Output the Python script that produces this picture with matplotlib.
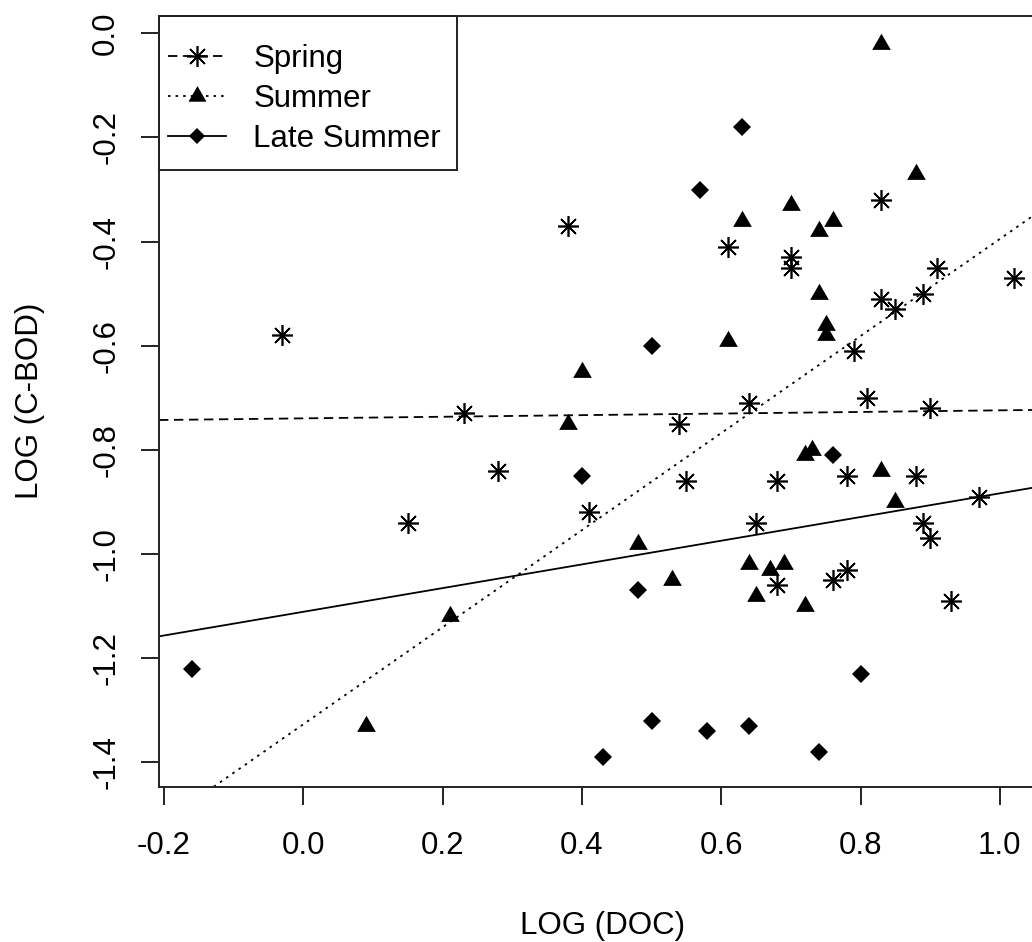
import matplotlib
matplotlib.use('Agg')
import matplotlib.pyplot as plt
from matplotlib.lines import Line2D
from matplotlib.patches import Rectangle
from matplotlib.ticker import FixedLocator, FormatStrFormatter

plt.rcParams['font.family'] = ['Liberation Sans', 'DejaVu Sans']
plt.rcParams['axes.unicode_minus'] = False

# data
spring_x = [-0.03, 0.15, 0.23, 0.28, 0.38, 0.41, 0.54, 0.55, 0.61, 0.64,
            0.65, 0.68, 0.68, 0.70, 0.70, 0.76, 0.78, 0.78, 0.79, 0.81,
            0.83, 0.83, 0.85, 0.88, 0.89, 0.89, 0.90, 0.90, 0.91, 0.93,
            0.97, 1.02]
spring_y = [-0.58, -0.94, -0.73, -0.84, -0.37, -0.92, -0.75, -0.86, -0.41, -0.71,
            -0.94, -0.86, -1.06, -0.43, -0.45, -1.05, -0.85, -1.03, -0.61, -0.70,
            -0.32, -0.51, -0.53, -0.85, -0.50, -0.94, -0.72, -0.97, -0.45, -1.09,
            -0.89, -0.47]

summer_x = [0.09, 0.21, 0.38, 0.40, 0.48, 0.53, 0.61, 0.63, 0.64, 0.65,
            0.67, 0.69, 0.70, 0.72, 0.72, 0.73, 0.74, 0.74, 0.75, 0.75,
            0.76, 0.83, 0.83, 0.85, 0.88]
summer_y = [-1.33, -1.12, -0.75, -0.65, -0.98, -1.05, -0.59, -0.36, -1.02, -1.08,
            -1.03, -1.02, -0.33, -0.81, -1.10, -0.80, -0.38, -0.50, -0.56, -0.58,
            -0.36, -0.02, -0.84, -0.90, -0.27]

late_x = [-0.16, 0.40, 0.43, 0.48, 0.50, 0.50, 0.57, 0.58, 0.63, 0.64, 0.74, 0.76, 0.80]
late_y = [-1.22, -0.85, -1.39, -1.07, -0.60, -1.32, -0.30, -1.34, -0.18, -1.33, -1.38, -0.81, -1.23]

seasons = ['Spring', 'Summer', 'Late Summer']
fit_intercept = [-0.7395, -1.327, -1.111]
fit_slope = [0.0154, 0.932, 0.2275]

x_ticks = [-0.2, 0.0, 0.2, 0.4, 0.6, 0.8, 1.0]
y_ticks = [-1.4, -1.2, -1.0, -0.8, -0.6, -0.4, -0.2, 0.0]

# R-like markers
asterisk = (8, 2, 0)
triangle = [(0, 1.555), (1.3468, -0.7776), (-1.3468, -0.7776)]
styles = [dict(marker=asterisk, ms=15, leg_ms=15, mew=1.2, linestyle=(0, (5.2, 3.1))),
          dict(marker=triangle, ms=15.5, leg_ms=15, mew=0, linestyle=(0, (1.4, 2.8))),
          dict(marker='D', ms=9.6, leg_ms=8.5, mew=0, linestyle='-')]

fs = 22.5

fig = plt.figure(figsize=(10.32, 9.42), dpi=100)
ax = fig.add_axes([0.15407, 0.16486, 0.86008, 0.81847])

for (x, y), st in zip([(spring_x, spring_y), (summer_x, summer_y), (late_x, late_y)], styles):
    ax.plot(x, y, linestyle='none', color='black', marker=st['marker'],
            ms=st['ms'], mew=st['mew'])

for b, m, st in zip(fit_intercept, fit_slope, styles):
    ax.axline((0, b), slope=m, color='black', lw=1.3, linestyle=st['linestyle'],
              dash_capstyle='butt')

ax.set_xlim(-0.2072, 1.0672)
ax.set_ylim(-1.4469, 0.0338)

ax.xaxis.set_major_locator(FixedLocator(x_ticks))
ax.yaxis.set_major_locator(FixedLocator(y_ticks))
ax.xaxis.set_major_formatter(FormatStrFormatter('%.1f'))
ax.yaxis.set_major_formatter(FormatStrFormatter('%.1f'))
ax.tick_params(direction='out', length=13.2, width=1.4, labelsize=fs, color='#222222')
ax.tick_params(axis='x', pad=18.9)
ax.tick_params(axis='y', pad=14, labelrotation=90)
plt.setp(ax.get_yticklabels(), va='center')
for s in ax.spines.values():
    s.set_linewidth(1.4)
    s.set_color('#222222')

ax.set_xlabel('LOG (DOC)', fontsize=fs)
ax.xaxis.set_label_coords(0.5, -0.1608)
ax.set_ylabel('LOG (C-BOD)', fontsize=fs)
ax.yaxis.set_label_coords(-0.1289, 0.5)

handles = [Line2D([], [], color='black', lw=1.3, linestyle=st['linestyle'],
                  dash_capstyle='butt', marker=st['marker'], ms=st['leg_ms'], mew=st['mew'])
           for st in styles]
ax.legend(handles, seasons, loc='center left', bbox_to_anchor=(0.0101, 0.8922),
          frameon=False, borderpad=0, borderaxespad=0, handlelength=1.856,
          handletextpad=0.88, labelspacing=0.31, fontsize=fs)
ax.add_patch(Rectangle((0, 0.7999), 0.3354, 0.2001, transform=ax.transAxes,
                       fill=False, lw=1.4, ec='#222222', clip_on=False, zorder=5))

fig.savefig('out.png', dpi=100)
